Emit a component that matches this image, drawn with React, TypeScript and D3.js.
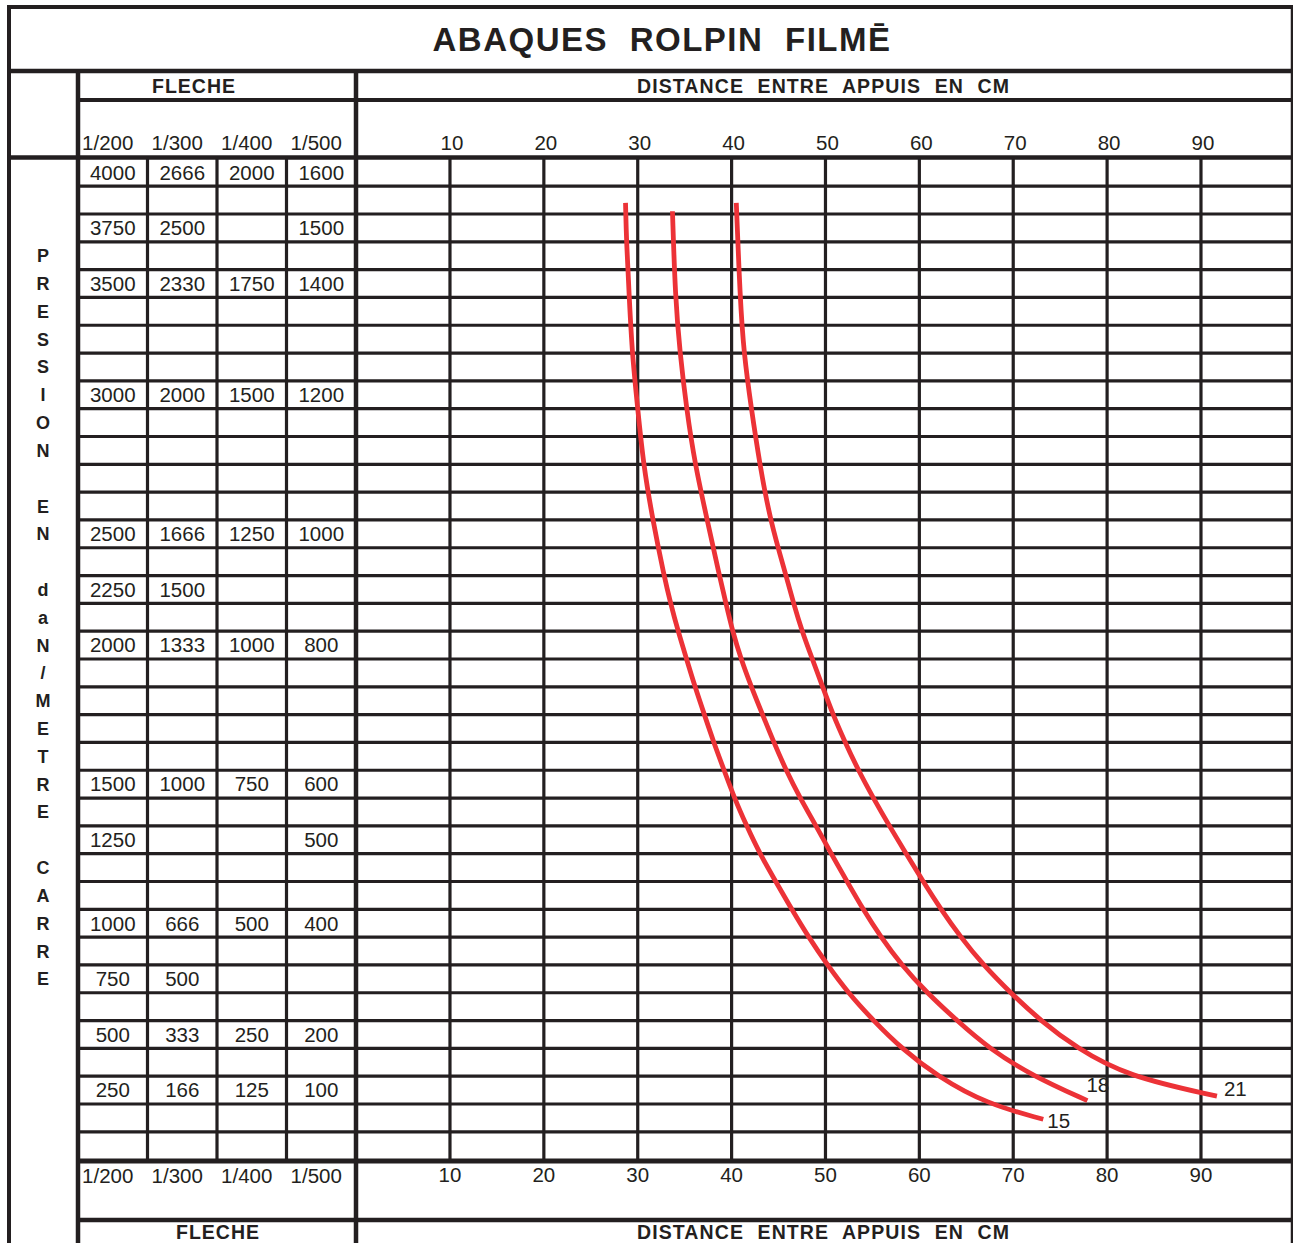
import * as d3 from 'd3';
import { useEffect, useRef } from 'react';

// --- chart data ---
const title = 'ABAQUES ROLPIN FILMĒ';
const flecheTitle = 'FLECHE';
const distanceTitle = 'DISTANCE ENTRE APPUIS EN CM';
const sideLabel = 'PRESSION EN daN/METRE CARRE';

const fleches = ['1/200', '1/300', '1/400', '1/500'];
const distanceTicks = [10, 20, 30, 40, 50, 60, 70, 80, 90];
const rowCount = 36;

// rows (0 = top) carrying pressure values, and the values per deflection column
const valueRows = [0, 2, 4, 8, 13, 15, 17, 22, 24, 27, 29, 31, 33];
const col200 = ['4000', '3750', '3500', '3000', '2500', '2250', '2000', '1500', '1250', '1000', '750', '500', '250'];
const col300 = ['2666', '2500', '2330', '2000', '1666', '1500', '1333', '1000', '', '666', '500', '333', '166'];
const col400 = ['2000', '', '1750', '1500', '1250', '', '1000', '750', '', '500', '', '250', '125'];
const col500 = ['1600', '1500', '1400', '1200', '1000', '', '800', '600', '500', '400', '', '200', '100'];

// curves: [distance cm, row position]
const curve15: [number, number][] = [
  [28.7, 1.6], [28.8, 3], [29.1, 5], [29.4, 7], [30.0, 9], [30.6, 11], [31.6, 13], [32.8, 15],
  [33.5, 16], [34.3, 17], [35.2, 18], [36.1, 19], [37.1, 20], [38.1, 21], [39.2, 22], [40.3, 23],
  [41.6, 24], [43.0, 25], [44.7, 26], [46.4, 27], [48.2, 28], [50.2, 29], [52.4, 30], [55.1, 31],
  [58.1, 32], [61.9, 33], [67.2, 34], [73.2, 34.55],
];
const curve18: [number, number][] = [
  [33.7, 1.9], [34.0, 5], [34.5, 7], [35.2, 9], [36.1, 11], [37.4, 13], [38.7, 15], [39.4, 16],
  [40.1, 17], [41.0, 18], [42.1, 19], [43.3, 20], [44.5, 21], [45.8, 22], [47.3, 23], [49.0, 24],
  [50.6, 25], [52.3, 26], [54.0, 27], [55.9, 28], [58.1, 29], [60.8, 30], [64.0, 31], [67.4, 32],
  [72.1, 33], [77.9, 33.88],
];
const curve21: [number, number][] = [
  [40.5, 1.6], [40.9, 5], [41.3, 7], [42.1, 9], [43.0, 11], [44.1, 13], [45.8, 15], [46.6, 16],
  [47.5, 17], [48.6, 18], [49.7, 19], [50.8, 20], [52.1, 21], [53.5, 22], [55.1, 23], [56.8, 24],
  [58.6, 25], [60.4, 26], [62.3, 27], [64.4, 28], [66.8, 29], [69.7, 30], [72.9, 31], [76.8, 32],
  [82.1, 33], [91.7, 33.72],
];
const curveNames = ['15', '18', '21'];

const W = 1293;
const H = 1243;
const ink = '#231f20';
const red = '#ec3237';
const font = '"Liberation Sans", Arial, Helvetica, sans-serif';

export default function App() {
  const ref = useRef<SVGSVGElement>(null);

  useEffect(() => {
    const svg = d3.select(ref.current);
    svg.selectAll('*').remove();

    const frame = { left: 9, side: 78, plot: 356, right: 1292, top: 7, title: 71, head: 100, foot: 1220 };
    const x = d3.scaleLinear().domain([0, 100]).range([356.1, 1294.85]);
    const row = d3.scaleLinear().domain([0, rowCount]).range([158.4, 1159.6]);
    const rowH = row(1) - row(0);
    const col = d3.scaleBand().domain(fleches).range([frame.side, frame.plot]);
    const colCenter = (f: string) => col(f)! + col.bandwidth() / 2;

    svg.append('rect').attr('width', W).attr('height', H).attr('fill', '#fff');

    const gLines = svg.append('g').attr('stroke', ink).attr('fill', 'none');
    const hLine = (y: number, x0: number, x1: number, w: number) =>
      gLines.append('line').attr('x1', x0).attr('x2', x1).attr('y1', y).attr('y2', y).attr('stroke-width', w);
    const vLine = (xx: number, y0: number, y1: number, w: number) =>
      gLines.append('line').attr('x1', xx).attr('x2', xx).attr('y1', y0).attr('y2', y1).attr('stroke-width', w);

    // row lines
    d3.range(1, rowCount).forEach((i) => hLine(row(i), frame.side, frame.right, 3.2));
    // table column separators and distance grid
    fleches.slice(1).forEach((f) => vLine(col(f)!, row(0), row(rowCount), 3.2));
    distanceTicks.forEach((d) => vLine(x(d), row(0), row(rowCount), 3.2));

    // frame
    hLine(frame.top, frame.left - 2, frame.right + 1, 4);
    hLine(frame.title, frame.left, frame.right, 4.5);
    hLine(frame.head, frame.side, frame.right, 4);
    hLine(row(0) - 1, frame.left, frame.right, 4.5);
    hLine(row(rowCount) + 1.5, frame.side, frame.right, 5);
    hLine(frame.foot, frame.side, frame.right, 4.5);
    vLine(frame.left, frame.top, H, 4);
    vLine(frame.side, frame.title, H, 4.5);
    vLine(frame.plot, frame.title, H, 4.5);
    vLine(frame.right, frame.top, H, 2.5);

    const gText = svg.append('g').attr('fill', ink).attr('font-family', font);

    gText.append('text').text(title)
      .attr('x', 662).attr('y', 51).attr('text-anchor', 'middle')
      .attr('font-size', 33).attr('font-weight', 'bold')
      .attr('letter-spacing', 1.5).attr('word-spacing', 11);

    [[93, 152], [1239, 176]].forEach(([y, fx]) => {
      gText.append('text').text(flecheTitle)
        .attr('x', fx).attr('y', y).attr('font-size', 19.5).attr('font-weight', 'bold')
        .attr('letter-spacing', 1);
      gText.append('text').text(distanceTitle)
        .attr('x', 637).attr('y', y).attr('font-size', 19.5).attr('font-weight', 'bold')
        .attr('letter-spacing', 1.1).attr('word-spacing', 7);
    });

    // deflection headers top and bottom
    [150, 1183].forEach((y) => {
      gText.selectAll(null).data(fleches).enter().append('text')
        .attr('x', (f) => colCenter(f) - 5).attr('y', y)
        .attr('text-anchor', 'middle').attr('font-size', 20.5)
        .text((f) => f);
    });

    // distance tick labels
    gText.selectAll(null).data(distanceTicks).enter().append('text')
      .attr('x', (d) => x(d) + 2).attr('y', 150)
      .attr('text-anchor', 'middle').attr('font-size', 20.5).text((d) => d);
    gText.selectAll(null).data(distanceTicks).enter().append('text')
      .attr('x', (d) => x(d)).attr('y', 1182)
      .attr('text-anchor', 'middle').attr('font-size', 20.5).text((d) => d);

    // pressure values
    const columns = [col200, col300, col400, col500];
    columns.forEach((values, ci) => {
      gText.selectAll(null).data(values).enter().append('text')
        .attr('x', colCenter(fleches[ci]))
        .attr('y', (_, i) => row(valueRows[i]) + rowH / 2 + 7.3)
        .attr('text-anchor', 'middle').attr('font-size', 20.5)
        .text((v) => v);
    });

    // vertical side label, one character per row from row 3
    gText.selectAll(null).data(sideLabel.split('')).enter().append('text')
      .attr('x', 43).attr('y', (_, i) => row(3 + i) + rowH / 2 + 6.5)
      .attr('text-anchor', 'middle').attr('font-size', 18).attr('font-weight', 'bold')
      .text((c) => (c === ' ' ? '' : c));

    // curves
    const line = d3.line<[number, number]>()
      .x((d) => x(d[0])).y((d) => row(d[1]))
      .curve(d3.curveBasis);
    const curves = [curve15, curve18, curve21];
    const labelOffset = { '15': [4, 9], '18': [-1, -9], '21': [7, 0] };
    svg.append('g').selectAll('path').data(curves).enter().append('path')
      .attr('d', (d) => line(d))
      .attr('fill', 'none').attr('stroke', red).attr('stroke-width', 4.8);
    curves.forEach((c, i) => {
      const end = c[c.length - 1];
      const off = labelOffset[curveNames[i]];
      gText.append('text').text(curveNames[i])
        .attr('x', x(end[0]) + off[0]).attr('y', row(end[1]) + off[1])
        .attr('font-size', 20.5);
    });
  }, []);

  return (
    <svg
      ref={ref}
      width={W}
      height={H}
      style={{ position: 'absolute', left: 0, top: 0, display: 'block' }}
    />
  );
}
